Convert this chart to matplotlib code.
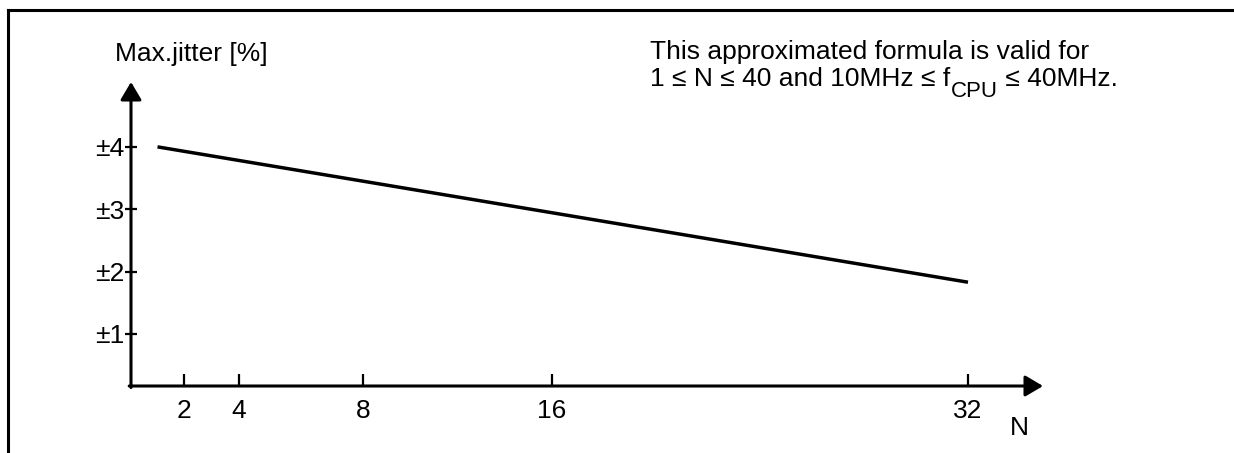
# max_jitter_chart.py
# ---------------------------------------------------------
# Schematic of max. jitter [%] versus divider N
# ---------------------------------------------------------

import numpy as np
import matplotlib
matplotlib.use("Agg")
import matplotlib.pyplot as plt
from matplotlib.lines import Line2D

# ── DATA ─────────────────────────────────────────────────
n_values      = [1, 32]          # line end points (N)
jitter_values = [4.0, 1.83]      # max. jitter [%]

x_ticks       = [2, 4, 8, 16, 32]
x_tick_labels = ["2", "4", "8", "16", "32"]
y_ticks       = [1, 2, 3, 4]
y_tick_labels = ["±1", "±2", "±3", "±4"]

# the N axis of the original drawing is not linear: piecewise scale
scale_n   = [0, 2, 4, 8, 16, 32, 35]
scale_pos = [0, 53, 108, 232, 421, 837, 912]

# ── STYLE ────────────────────────────────────────────────
plt.rcParams["font.family"] = ["Liberation Sans", "DejaVu Sans"]
FS = 19
LW = 2.2

W, H = 1234, 453
fig = plt.figure(figsize=(W / 100, H / 100), dpi=100)

# outer frame (top + left)
fig.add_artist(Line2D([8 / W, 1], [1 - 10 / H, 1 - 10 / H],
                      transform=fig.transFigure, color="black", lw=2.2))
fig.add_artist(Line2D([8 / W, 8 / W], [0, 1 - 10 / H],
                      transform=fig.transFigure, color="black", lw=2.2))

ax = fig.add_axes([131 / W, (H - 386) / H, 912 / W, 304 / H])
ax.set_facecolor("none")


def fwd(x):
    return np.interp(x, scale_n, scale_pos)


def inv(x):
    return np.interp(x, scale_pos, scale_n)


ax.set_xscale("function", functions=(fwd, inv))
ax.set_xlim(0, 35)
ax.set_ylim(0.166, 5.04)

ax.plot(n_values, jitter_values, color="black", lw=LW + 0.3,
        solid_capstyle="butt")

for s in ax.spines.values():
    s.set_visible(False)

# axis arrows
arrow = dict(arrowstyle="-|>,head_length=0.54,head_width=0.32",
             color="black", lw=LW, shrinkA=0, shrinkB=0, mutation_scale=20)
ax.annotate("", xy=(1, 0), xytext=(-0.002, 0), xycoords="axes fraction",
            arrowprops=arrow)
ax.annotate("", xy=(0, 1), xytext=(0, -0.005), xycoords="axes fraction",
            arrowprops=arrow)

ax.set_xticks(x_ticks, x_tick_labels)
ax.set_yticks(y_ticks, y_tick_labels)
ax.minorticks_off()
ax.tick_params(axis="x", direction="in", length=9, width=1.6,
               pad=9, labelsize=FS)
ax.tick_params(axis="y", direction="inout", length=8, width=1.6,
               pad=0.5, labelsize=FS)

# texts
fig.text(115 / W, 1 - 61 / H, "Max.jitter [%]", fontsize=FS,
         ha="left", va="baseline")
fig.text(1010 / W, 1 - 428 / H, "N", fontsize=FS, ha="left", va="center")
fig.text(650 / W, 1 - 59 / H, "This approximated formula is valid for",
         fontsize=FS, ha="left", va="baseline")

# second line: f_CPU with a large subscript, built from three pieces
base_y = 1 - 86 / H
t1 = fig.text(650 / W, base_y, "1 ≤ N ≤ 40 and 10MHz ≤ f",
              fontsize=FS, ha="left", va="baseline")
t2 = ax.annotate("CPU", xy=(1, base_y), xycoords=(t1, "figure fraction"),
                 xytext=(0.5, -8), textcoords="offset points",
                 fontsize=16, ha="left", va="baseline", annotation_clip=False)
ax.annotate(" ≤ 40MHz.", xy=(1, base_y), xycoords=(t2, "figure fraction"),
            xytext=(0, 0), textcoords="offset points",
            fontsize=FS, ha="left", va="baseline", annotation_clip=False)

fig.savefig("out.png", dpi=100)
